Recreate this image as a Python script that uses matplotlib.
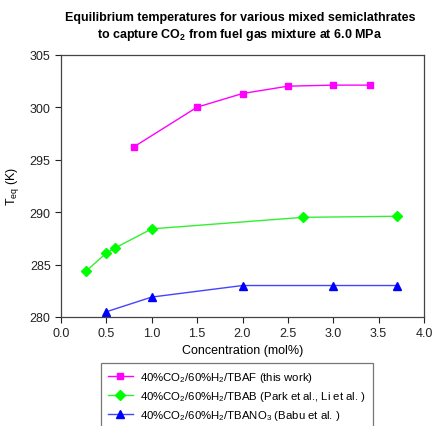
import matplotlib
matplotlib.use("Agg")
import matplotlib.pyplot as plt

plt.rcParams['font.family'] = ['Liberation Sans', 'DejaVu Sans']
plt.rcParams['mathtext.fontset'] = 'custom'
plt.rcParams['mathtext.rm'] = 'Liberation Sans'
plt.rcParams['mathtext.it'] = 'Liberation Sans:italic'
plt.rcParams['mathtext.bf'] = 'Liberation Sans:bold'

tbaf_x = [0.8, 1.5, 2.0, 2.5, 3.0, 3.4]
tbaf_y = [296.2, 300.0, 301.3, 302.0, 302.1, 302.1]
tbab_x = [0.28, 0.5, 0.6, 1.0, 2.67, 3.7]
tbab_y = [284.4, 286.1, 286.6, 288.4, 289.5, 289.6]
tbano3_x = [0.5, 1.0, 2.0, 3.0, 3.7]
tbano3_y = [280.5, 281.9, 283.0, 283.0, 283.0]

labels = [r'40%CO$_\mathrm{2}$/60%H$_\mathrm{2}$/TBAF (this work)',
          r'40%CO$_\mathrm{2}$/60%H$_\mathrm{2}$/TBAB (Park et al., Li et al. )',
          r'40%CO$_\mathrm{2}$/60%H$_\mathrm{2}$/TBANO$_\mathrm{3}$ (Babu et al. )']

fig = plt.figure(figsize=(4.33, 4.27), dpi=100)
ax = fig.add_axes([61/433, 1-318/427, (424-61)/433, (318-55.7)/427])

l1, = ax.plot(tbaf_x, tbaf_y, color='#ff00ff', marker='s', markersize=5, lw=1)
l2, = ax.plot(tbab_x, tbab_y, color='#33ee33', marker='D', markersize=5, lw=1,
              markerfacecolor='#00ff00', markeredgecolor='#00ff00')
l3, = ax.plot(tbano3_x, tbano3_y, color='#4444ff', marker='^', markersize=6, lw=1,
              markerfacecolor='#0000ff', markeredgecolor='#0000ff')

ax.set_xlim(0, 4)
ax.set_ylim(280, 305)
ax.set_xticks([0, 0.5, 1.0, 1.5, 2.0, 2.5, 3.0, 3.5, 4.0])
ax.set_xticklabels(['0.0', '0.5', '1.0', '1.5', '2.0', '2.5', '3.0', '3.5', '4.0'])
ax.set_yticks([280, 285, 290, 295, 300, 305])
ax.tick_params(direction='out', labelsize=9, length=4, top=False, right=False, colors='#222222')
for s in ax.spines.values():
    s.set_color('#444444')
    s.set_linewidth(0.9)

ax.set_xlabel('Concentration (mol%)', fontsize=9, labelpad=3)
ax.set_ylabel(r'T$_\mathrm{eq}$ (K)', fontsize=9, labelpad=6)

fig.text(240/433, 1-12/427,
         'Equilibrium temperatures for various mixed semiclathrates\n'
         r'to capture CO$_\mathbf{2}$ from fuel gas mixture at 6.0 MPa',
         ha='center', va='top', fontsize=9, fontweight='bold', linespacing=1.3)

leg = fig.legend([l1, l2, l3], labels, loc='upper left',
                 bbox_to_anchor=(101/433, 1-364/427), fontsize=8.2,
                 frameon=True, fancybox=False, edgecolor='#555555',
                 handlelength=2.2, handletextpad=0.6, borderpad=0.6,
                 borderaxespad=0, labelspacing=0.45)
leg.get_frame().set_linewidth(0.9)

fig.savefig('out.png', dpi=100)
